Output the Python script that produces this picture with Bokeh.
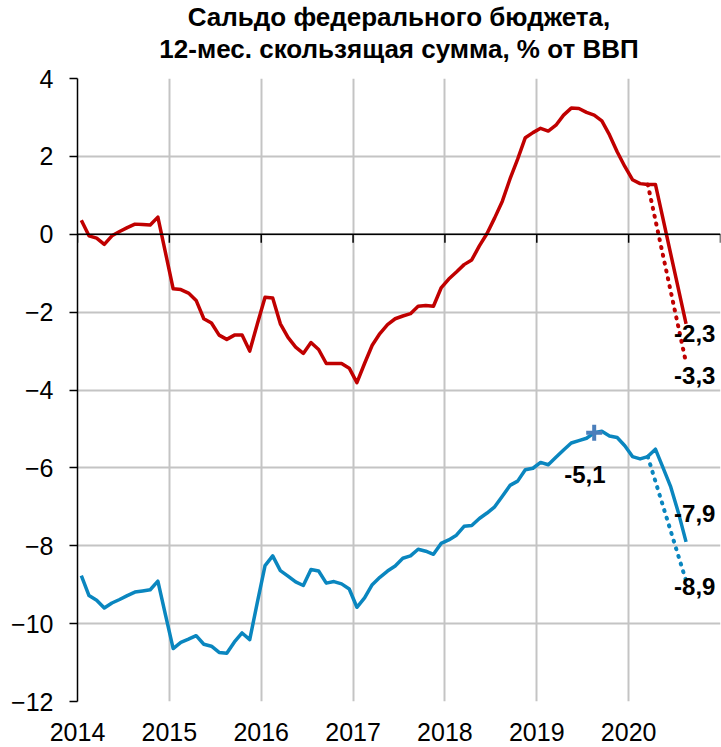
import numpy as np
from bokeh.plotting import figure
from bokeh.models import Span, FixedTicker, ColumnDataSource, Title
from bokeh.core.properties import value
from bokeh.embed import file_html
from bokeh.resources import INLINE

# ---------------- data ----------------
start_year = 2014  # first month: Jan 2014, monthly points

# Federal budget balance, 12-month rolling sum, % of GDP
red_values = [0.36, -0.04, -0.10, -0.26, -0.04, 0.07, 0.17, 0.26, 0.25, 0.24,
              0.44, -0.48, -1.40, -1.42, -1.51, -1.70, -2.17, -2.28, -2.59, -2.70,
              -2.59, -2.59, -3.00, -2.30, -1.62, -1.64, -2.30, -2.65, -2.90, -3.06,
              -2.78, -2.96, -3.32, -3.32, -3.32, -3.44, -3.81, -3.32, -2.85, -2.55,
              -2.32, -2.17, -2.10, -2.04, -1.85, -1.83, -1.85, -1.38, -1.15, -0.97,
              -0.78, -0.66, -0.30, 0.02, 0.42, 0.85, 1.42, 1.93, 2.48, 2.61,
              2.72, 2.65, 2.80, 3.06, 3.24, 3.23, 3.13, 3.06, 2.91, 2.55,
              2.12, 1.74, 1.40, 1.30, 1.28, 1.28, 0.39, -0.51, -1.40, -2.30]

# Non-oil balance (blue)
blue_values = [-8.77, -9.28, -9.40, -9.60, -9.47, -9.38, -9.28, -9.19, -9.16, -9.13,
               -8.91, -9.78, -10.64, -10.48, -10.40, -10.31, -10.53, -10.58, -10.74, -10.76,
               -10.47, -10.24, -10.41, -9.45, -8.51, -8.26, -8.64, -8.78, -8.93, -9.02,
               -8.61, -8.65, -8.96, -8.92, -8.98, -9.11, -9.58, -9.34, -9.00, -8.81,
               -8.65, -8.52, -8.32, -8.26, -8.09, -8.14, -8.22, -7.94, -7.85, -7.73,
               -7.50, -7.48, -7.30, -7.16, -7.00, -6.73, -6.45, -6.34, -6.05, -6.01,
               -5.86, -5.92, -5.73, -5.54, -5.36, -5.30, -5.24, -5.10, -5.06, -5.18,
               -5.22, -5.43, -5.71, -5.77, -5.71, -5.52, -6.00, -6.49, -7.15, -7.90]

# dotted alternative paths (month index from Jan 2014)
dotted_months = [74, 79]
red_dotted = [1.28, -3.3]
blue_dotted = [-5.71, -8.9]

peak_month = 67       # Aug 2019
peak_value = -5.1

years = [2014, 2015, 2016, 2017, 2018, 2019, 2020, 2021]
year_labels = ["2014", "2015", "2016", "2017", "2018", "2019", "2020", ""]
y_ticks = [-12, -10, -8, -6, -4, -2, 0, 2, 4]

title_line1 = "Сальдо федерального бюджета,"
title_line2 = "12-мес. скользящая сумма, % от ВВП"


def month_x(i):
    return start_year + (np.asarray(i, dtype=float) + 0.5) / 12.0


RED = "#C00000"
BLUE = "#0A86BF"
FONT = "Liberation Sans"

x_main = month_x(np.arange(len(red_values)))
x_dot = month_x(dotted_months)

p = figure(width=721, height=747, output_backend="svg", toolbar_location=None,
           x_range=(2014, 2021), y_range=(-12, 4),
           min_border_left=77, min_border_right=1, min_border_top=78, min_border_bottom=46)
p.title = None
p.background_fill_color = "white"
p.border_fill_color = "white"
p.outline_line_color = None

# two centred title lines (line 2 closest to the frame)
p.add_layout(Title(text=title_line2, align="center", text_font=FONT, text_font_size="26px",
                   text_font_style="bold", text_color="black", standoff=30), "above")
p.add_layout(Title(text=title_line1, align="center", text_font=FONT, text_font_size="26px",
                   text_font_style="bold", text_color="black", standoff=-30), "above")

# grids
p.xgrid.ticker = FixedTicker(ticks=years)
p.ygrid.ticker = FixedTicker(ticks=y_ticks)
for g in (p.xgrid, p.ygrid):
    g.grid_line_color = "#C4C4C4"
    g.grid_line_width = 2

# y axis
ya = p.yaxis[0]
ya.ticker = FixedTicker(ticks=y_ticks)
ya.axis_line_color = "black"
ya.axis_line_width = 1.5
ya.major_tick_line_color = "black"
ya.major_tick_line_width = 1.5
ya.major_tick_out = 8
ya.major_tick_in = 0
ya.minor_tick_line_color = None
ya.major_label_standoff = 16
ya.major_label_text_font = FONT
ya.major_label_text_font_size = "25px"
ya.major_label_text_color = "black"

# x axis: labels only at bottom
xa = p.xaxis[0]
xa.ticker = FixedTicker(ticks=years)
xa.major_label_overrides = {y: l for y, l in zip(years, year_labels)}
xa.axis_line_color = None
xa.major_tick_line_color = None
xa.minor_tick_line_color = None
xa.major_label_standoff = 15
xa.major_label_text_font = FONT
xa.major_label_text_font_size = "25px"
xa.major_label_text_color = "black"

# zero line with downward ticks
p.add_layout(Span(location=0, dimension="width", line_color="black", line_width=1.5))
p.segment(x0=years, y0=[0] * len(years), x1=years, y1=[-0.22] * len(years),
          line_color="black", line_width=1.5)

# dotted alternatives
p.line(x_dot, red_dotted, line_color=RED, line_width=4, line_dash="1 7", line_cap="round")
p.line(x_dot, blue_dotted, line_color=BLUE, line_width=4, line_dash="1 7", line_cap="round")

# main lines
p.line(x_main, red_values, line_color=RED, line_width=3.5, line_join="round")
p.line(x_main, blue_values, line_color=BLUE, line_width=3.5, line_join="round")

# peak marker
p.scatter(x=month_x([peak_month]), y=[peak_value], marker="cross", size=16,
          line_width=4, line_color="#4A7EBB")


def fmt(v):
    return f"{v:.1f}".replace(".", ",")


last = len(red_values) - 1
lab_src = ColumnDataSource(dict(
    x=list(month_x([last, last, last, last, peak_month])),
    y=[red_values[-1], red_dotted[-1], blue_values[-1], blue_dotted[-1], peak_value],
    text=[fmt(red_values[-1]), fmt(red_dotted[-1]), fmt(blue_values[-1]),
          fmt(blue_dotted[-1]), fmt(peak_value)],
    dx=[-12, -12, -12, -12, -30],
    dy=[10, 13, -28, 6, 42],
))
p.text(x="x", y="y", text="text", x_offset="dx", y_offset="dy", source=lab_src,
       text_font=value(FONT), text_font_size="24px", text_font_style="bold",
       text_color="black", text_align="left", text_baseline="middle")

open("out.html", "w").write(file_html(p, INLINE))
